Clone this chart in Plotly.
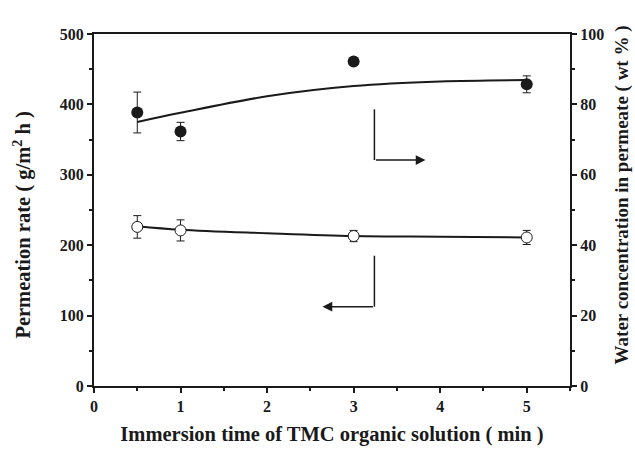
import plotly.graph_objects as go

# Data
time_min = [0.5, 1, 3, 5]
flux = [226, 221, 213, 211]
flux_err = [16, 15, 8, 10]
water = [77.7, 72.3, 92.2, 85.7]
water_err = [5.8, 2.6, 0, 2.4]

fit_time = [0.5, 1, 2, 3, 4, 5]
flux_fit = [227, 222, 217, 213, 212, 211]
water_fit = [75.0, 77.6, 82.3, 85.2, 86.5, 86.9]

FONT = "Liberation Serif"
INK = "#1a1a1a"

fig = go.Figure()

fig.add_trace(go.Scatter(x=fit_time, y=flux_fit, mode="lines", line=dict(color=INK, width=2, shape="spline"),
                         showlegend=False, hoverinfo="skip"))
fig.add_trace(go.Scatter(x=time_min, y=flux, mode="markers",
                         marker=dict(symbol="circle", size=11, color="white", line=dict(color=INK, width=1)),
                         error_y=dict(type="data", array=flux_err, color=INK, thickness=1, width=4),
                         showlegend=False))
fig.add_trace(go.Scatter(x=fit_time, y=water_fit, mode="lines", line=dict(color=INK, width=2, shape="spline"),
                         yaxis="y2", showlegend=False, hoverinfo="skip"))
fig.add_trace(go.Scatter(x=time_min, y=water, mode="markers", yaxis="y2",
                         marker=dict(symbol="circle", size=12, color=INK, line=dict(color=INK, width=0)),
                         error_y=dict(type="data", array=water_err, color=INK, thickness=1, width=4),
                         showlegend=False))

tickfont = dict(family=FONT, size=16, color=INK, weight="bold")

def tfont(size):
    return dict(family=FONT, size=size, color=INK, weight="bold")

fig.update_layout(
    width=635, height=454,
    margin=dict(l=94, r=65, t=34, b=65),
    paper_bgcolor="white", plot_bgcolor="white",
    xaxis=dict(range=[0, 5.5], tickvals=[0, 1, 2, 3, 4, 5], ticks="outside", ticklen=5, tickwidth=1.5,
               tickcolor=INK, showline=True, linecolor=INK, linewidth=2, mirror=True, showgrid=False,
               zeroline=False, tickfont=tickfont,
               minor=dict(dtick=0.5, ticks="outside", ticklen=3, tickwidth=1.5, tickcolor=INK, showgrid=False),
               title=dict(text="Immersion time of TMC organic solution ( min )", font=tfont(20.5), standoff=12)),
    yaxis=dict(range=[0, 500], dtick=100, ticks="outside", ticklen=5, tickwidth=1.5, tickcolor=INK,
               showline=True, linecolor=INK, linewidth=2, showgrid=False, zeroline=False, tickfont=tickfont,
               minor=dict(dtick=50, ticks="outside", ticklen=3, tickwidth=1.5, tickcolor=INK, showgrid=False)),
    yaxis2=dict(range=[0, 100], dtick=20, overlaying="y", side="right", ticks="outside", ticklen=5,
                tickwidth=1.5, tickcolor=INK, showline=True, linecolor=INK, linewidth=2, showgrid=False,
                zeroline=False, tickfont=tickfont,
                minor=dict(dtick=10, ticks="outside", ticklen=3, tickwidth=1.5, tickcolor=INK, showgrid=False)),
)

# Axis titles placed to match the reference
fig.add_annotation(text="Permeation rate ( g/m<sup>2</sup> h )", xref="paper", yref="paper",
                   x=-0.151, y=0.456, textangle=-90, showarrow=False, font=tfont(20.5),
                   xanchor="center", yanchor="middle")
fig.add_annotation(text="Water concentration in permeate ( wt % )", xref="paper", yref="paper",
                   x=1.109, y=0.544, textangle=-90, showarrow=False, font=tfont(19),
                   xanchor="center", yanchor="middle")

# Arrows indicating axes
fig.add_shape(type="line", x0=3.24, x1=3.24, y0=393, y1=321, xref="x", yref="y", line=dict(color=INK, width=1.5))
fig.add_annotation(x=3.83, y=321, ax=3.24, ay=321, xref="x", yref="y", axref="x", ayref="y", text="",
                   showarrow=True, arrowhead=2, arrowsize=1.3, arrowwidth=1.5, arrowcolor=INK)
fig.add_shape(type="line", x0=3.24, x1=3.24, y0=185, y1=112.6, xref="x", yref="y", line=dict(color=INK, width=1.5))
fig.add_annotation(x=2.64, y=112.6, ax=3.24, ay=112.6, xref="x", yref="y", axref="x", ayref="y", text="",
                   showarrow=True, arrowhead=2, arrowsize=1.3, arrowwidth=1.5, arrowcolor=INK)

fig.write_html("out.html")
